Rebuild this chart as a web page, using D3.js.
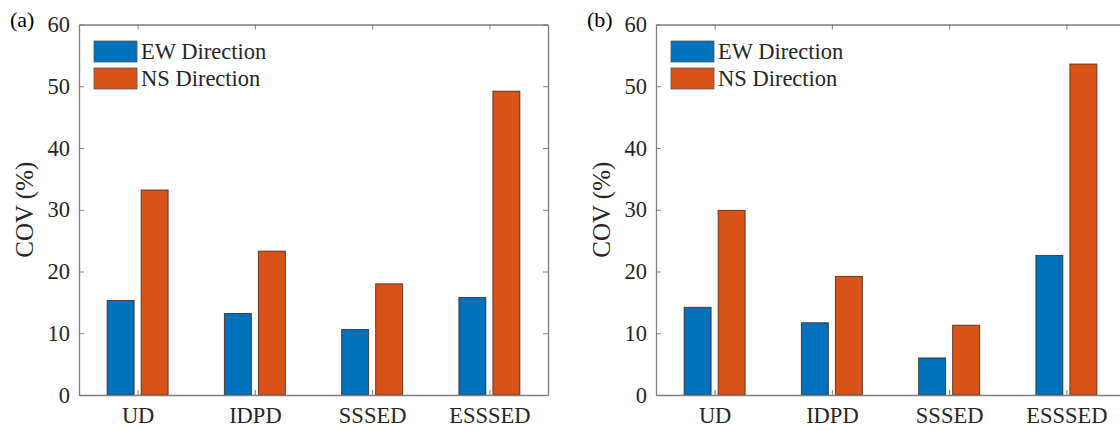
<!DOCTYPE html>
<html>
<head>
<meta charset="utf-8">
<script src="https://cdn.jsdelivr.net/npm/d3@7"></script>
<style>
  body { margin: 0; background: #fff; }
  svg { display: block; }
</style>
</head>
<body>
<svg width="1120" height="430"></svg>
<script>
// data
var categories = ["UD", "IDPD", "SSSED", "ESSSED"];
var seriesNames = ["EW Direction", "NS Direction"];
var ewA = [15.3, 13.2, 10.6, 15.8];
var nsA = [33.2, 23.3, 18.0, 49.2];
var ewB = [14.2, 11.7, 6.0, 22.6];
var nsB = [29.9, 19.2, 11.3, 53.6];
var yTicks = [0, 10, 20, 30, 40, 50, 60];
var colors = ["#0072BD", "#D95319"];

var FONT = "Liberation Serif";
var svg = d3.select("svg");

// one panel per dataset
function drawPanel(tag, left, ew, ns) {
    var top = 24.5, bottom = 395, w = 469;

    var g = svg.append("g").attr("font-family", FONT);

    var x = d3.scaleLinear().domain([0.5, 4.5]).range([left, left + w]);
    var y = d3.scaleLinear().domain([0, 60]).range([bottom, top]);

    var barW = (x(1.23) - x(1));
    var offs = [-0.145, 0.145];
    var series = [ew, ns];

    // bars
    series.forEach(function (vals, s) {
        g.selectAll(".bar" + s)
            .data(vals)
            .enter().append("rect")
            .attr("x", function (d, i) { return x(i + 1 + offs[s]) - barW / 2; })
            .attr("y", function (d) { return y(d); })
            .attr("width", barW)
            .attr("height", function (d) { return y(0) - y(d); })
            .attr("fill", colors[s])
            .attr("stroke", "#3a1a0a")
            .attr("stroke-opacity", 0.75)
            .attr("stroke-width", 1);
    });

    // box + axes
    var axisColor = "#7f7f7f";
    var yLeft = d3.axisLeft(y).tickValues(yTicks).tickSizeInner(-5).tickSizeOuter(0).tickPadding(9);
    var yRight = d3.axisRight(y).tickValues(yTicks).tickSizeInner(-5).tickSizeOuter(0).tickFormat("");
    var xBottom = d3.axisBottom(x).tickValues([1, 2, 3, 4]).tickSizeInner(-5).tickSizeOuter(0)
        .tickPadding(12).tickFormat(function (d) { return categories[d - 1]; });
    var xTop = d3.axisTop(x).tickValues([1, 2, 3, 4]).tickSizeInner(-5).tickSizeOuter(0).tickFormat("");

    var axes = [
        g.append("g").attr("transform", "translate(" + left + ",0)").call(yLeft),
        g.append("g").attr("transform", "translate(" + (left + w) + ",0)").call(yRight),
        g.append("g").attr("transform", "translate(0," + bottom + ")").call(xBottom),
        g.append("g").attr("transform", "translate(0," + top + ")").call(xTop)
    ];
    axes.forEach(function (a) {
        a.attr("font-family", FONT).attr("font-size", 22.5);
        a.select(".domain").attr("stroke", axisColor).attr("stroke-width", 1.3);
        a.selectAll(".tick line").attr("stroke", axisColor);
        a.selectAll("text").attr("fill", "#262626");
    });

    // y label
    g.append("text")
        .attr("transform", "translate(" + (left - 46) + "," + ((top + bottom) / 2) + ") rotate(-90)")
        .attr("text-anchor", "middle")
        .attr("fill", "#262626")
        .attr("font-size", 25)
        .text("COV (%)");

    // panel tag
    g.append("text")
        .attr("x", left - 69)
        .attr("y", top + 2)
        .attr("fill", "#000")
        .attr("font-size", 22)
        .text(tag);

    // legend
    var leg = g.append("g").attr("transform", "translate(" + (left + 15) + "," + (top + 16.5) + ")");
    seriesNames.forEach(function (name, s) {
        leg.append("rect")
            .attr("x", 0).attr("y", s * 27)
            .attr("width", 43).attr("height", 21)
            .attr("fill", colors[s])
            .attr("stroke", "#555").attr("stroke-width", 0.8);
        leg.append("text")
            .attr("x", 47).attr("y", s * 27 + 18)
            .attr("fill", "#262626")
            .attr("font-size", 22.5)
            .text(name);
    });
}

drawPanel("(a)", 79, ewA, nsA);
drawPanel("(b)", 656, ewB, nsB);
</script>
</body>
</html>
